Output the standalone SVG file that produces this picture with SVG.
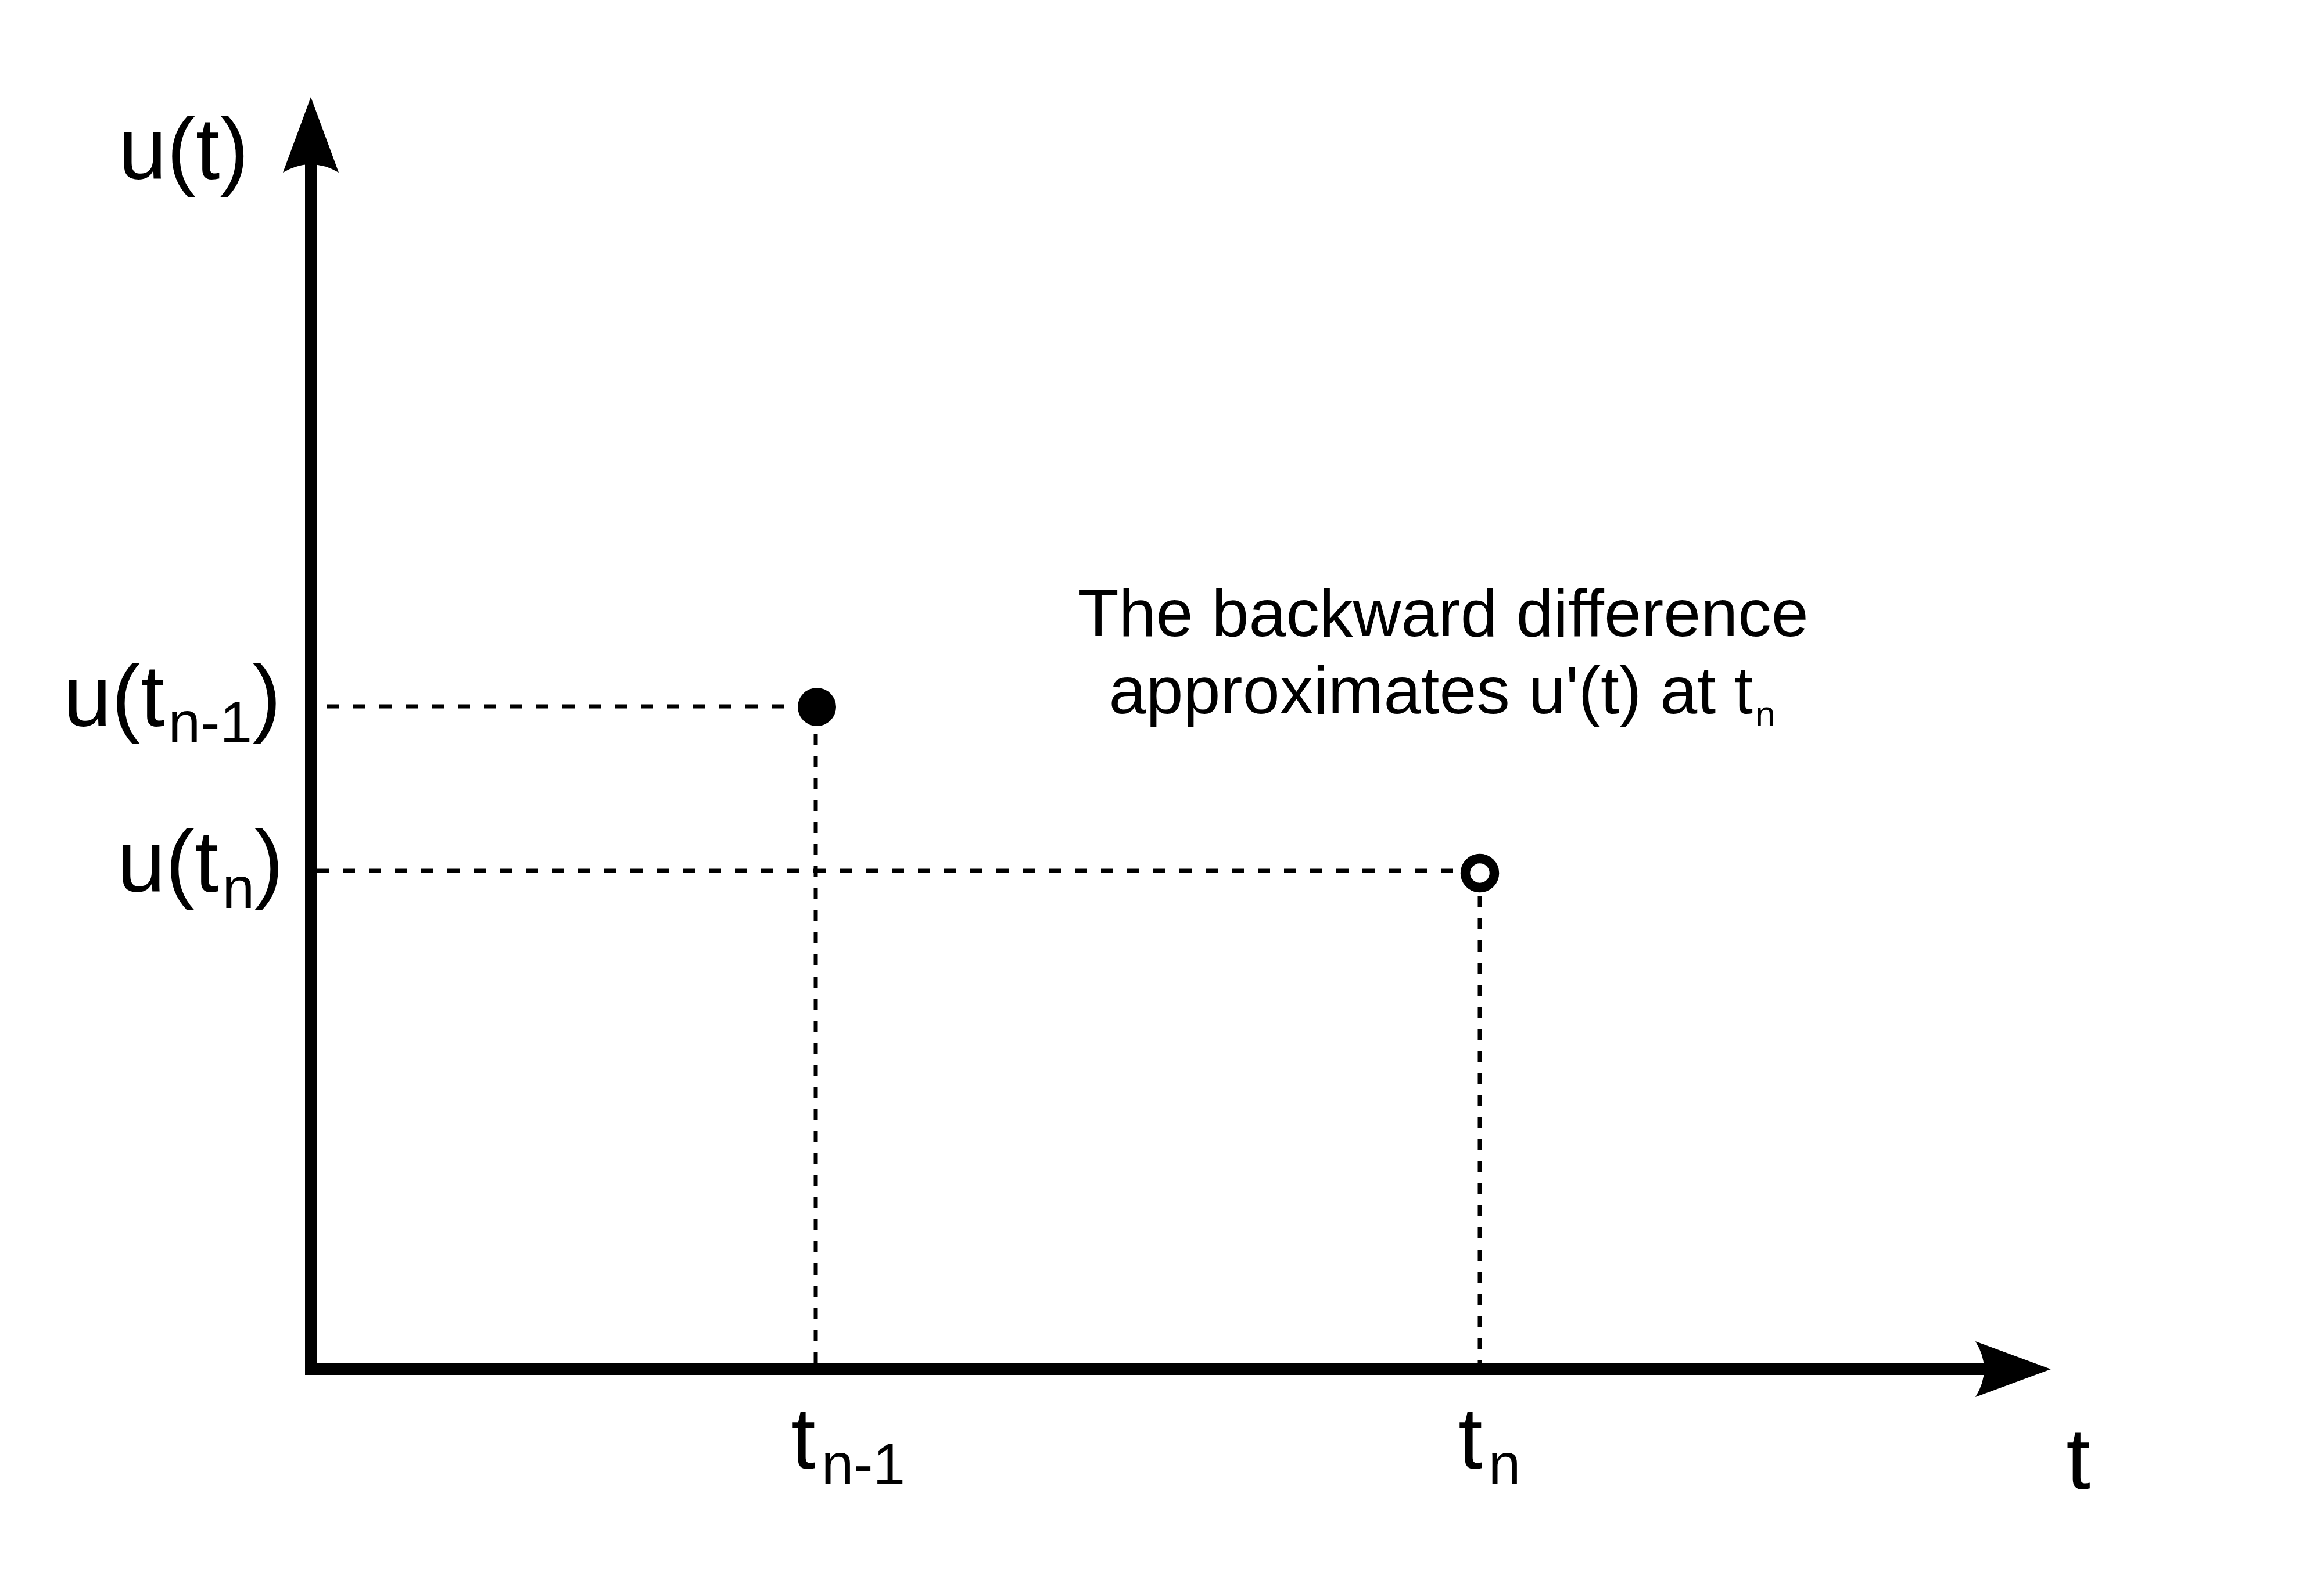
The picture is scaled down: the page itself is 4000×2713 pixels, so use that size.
<svg xmlns="http://www.w3.org/2000/svg" width="4000" height="2713" viewBox="0 0 4000 2713">
  <style>
    .lbl { font-family: "Liberation Sans", Arial, sans-serif; fill: #000; }
    .big { font-size: 150px; }
    .sub { font-size: 100px; }
    .note { font-size: 115px; }
    .axis { fill: none; stroke: #000; stroke-width: 20; stroke-linejoin: miter; }
    .dashh { fill: none; stroke: #000; stroke-width: 7; stroke-dasharray: 21 24; }
    .dashv { fill: none; stroke: #000; stroke-width: 7; stroke-dasharray: 19 19; }
  </style>
  <rect x="0" y="0" width="4000" height="2713" fill="#fff"/>

  <g id="axes">
    <polyline class="axis" points="535,283 535,2357 3415,2357"/>
    <path d="M535,167 L583,297 Q535,269 487,297 Z" fill="#000"/>
    <path d="M3530,2357 L3400,2405 Q3430,2357 3400,2309 Z" fill="#000"/>
  </g>

  <g id="connectors">
    <line class="dashh" x1="563" y1="1216" x2="1360" y2="1216"/>
    <line class="dashv" x1="1404" y1="1263" x2="1404" y2="2347"/>
    <line class="dashh" x1="545" y1="1499" x2="2515" y2="1499"/>
    <line class="dashv" x1="2547" y1="1543" x2="2547" y2="2347"/>
  </g>

  <g id="point-prev">
    <circle cx="1406" cy="1217" r="33" fill="#000"/>
  </g>
  <g id="point-curr">
    <circle cx="2547" cy="1503" r="25" fill="#fff" stroke="#000" stroke-width="16.5"/>
  </g>

  <g id="label-ut">
    <text class="lbl big" x="316" y="308" text-anchor="middle">u(t)</text>
  </g>
  <g id="label-utn1">
    <text class="lbl big" x="484" y="1250" text-anchor="end">u(t<tspan class="sub" dx="6" dy="28">n-1</tspan><tspan dy="-28">)</tspan></text>
  </g>
  <g id="label-utn">
    <text class="lbl big" x="488" y="1535" text-anchor="end">u(t<tspan class="sub" dx="6" dy="28">n</tspan><tspan dy="-28">)</tspan></text>
  </g>
  <g id="label-tn1">
    <text class="lbl big" x="1362" y="2528">t<tspan class="sub" dx="10" dy="27">n-1</tspan></text>
  </g>
  <g id="label-tn">
    <text class="lbl big" x="2510" y="2528">t<tspan class="sub" dx="10" dy="27">n</tspan></text>
  </g>
  <g id="label-t">
    <text class="lbl big" x="3577" y="2563" text-anchor="middle">t</text>
  </g>
  <g id="note">
    <text class="lbl note" x="2484" y="1095" text-anchor="middle">The backward difference</text>
    <text class="lbl note" x="2482" y="1228" text-anchor="middle">approximates u'(t) at t<tspan font-size="62" dx="4" dy="22">n</tspan></text>
  </g>
</svg>
